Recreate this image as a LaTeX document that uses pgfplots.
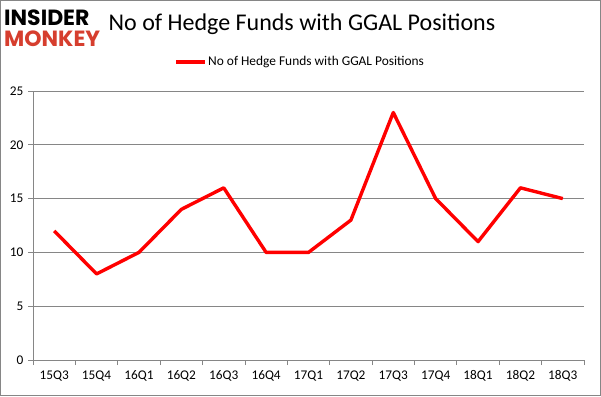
\documentclass[border=0pt]{standalone}
\usepackage{pgfplots}
\pgfplotsset{compat=1.18}
\usepackage{fontspec}
\setmainfont{Carlito}
\newfontfamily\logofont{Poppins}
\definecolor{gridgray}{RGB}{134,134,134}
\definecolor{logored}{RGB}{214,62,46}
\begin{document}
\begin{tikzpicture}[x=1pt,y=1pt]
\draw[gridgray, line width=0.8pt] (0.4,0.4) rectangle (600.6,395.6);
\begin{axis}[
  at={(33pt,36pt)}, anchor=south west,
  scale only axis, width=551pt, height=269pt,
  xmin=-0.5, xmax=12.5, ymin=0, ymax=25,
  axis x line*=bottom, axis y line*=left,
  axis line style={gridgray, line width=0.8pt},
  xtick={0,...,12},
  xticklabels={15Q3,15Q4,16Q1,16Q2,16Q3,16Q4,17Q1,17Q2,17Q3,17Q4,18Q1,18Q2,18Q3},
  minor xtick={-0.5,0.5,...,12.5},
  major x tick style={draw=none},
  minor tick length=5pt,
  ytick={0,5,...,25},
  major tick length=5pt,
  tick align=outside,
  tick style={gridgray, line width=0.8pt},
  ymajorgrids, grid style={gridgray, line width=0.8pt},
  tick label style={font=\fontsize{13.3}{15}\selectfont, text=black},
  /pgf/number format/assume math mode=true,
  yticklabel style={xshift=-1pt},
  xticklabel style={yshift=-2pt},
  clip=false,
]
\addplot[red, line width=3.4pt, line join=round] coordinates {
(0,12) (1,8) (2,10) (3,14) (4,16) (5,10) (6,10) (7,13) (8,23) (9,15) (10,11) (11,16) (12,15)
};
\end{axis}
\node[font=\fontsize{24}{28}\selectfont] at (302,372) {No of Hedge Funds with GGAL Positions};
\draw[red, line width=3.4pt] (176,334) -- (205,334);
\node[anchor=west, font=\fontsize{13.4}{15}\selectfont, inner sep=0pt] at (208,334) {No of Hedge Funds with GGAL Positions};
\node[anchor=west, font=\logofont\bfseries\fontsize{22}{22}\selectfont, inner sep=0pt] at (4,378) {INSIDER};
\node[anchor=west, font=\logofont\bfseries\fontsize{22}{22}\selectfont, text=logored, inner sep=0pt] at (4,357) {MONKEY};
\end{tikzpicture}
\end{document}
